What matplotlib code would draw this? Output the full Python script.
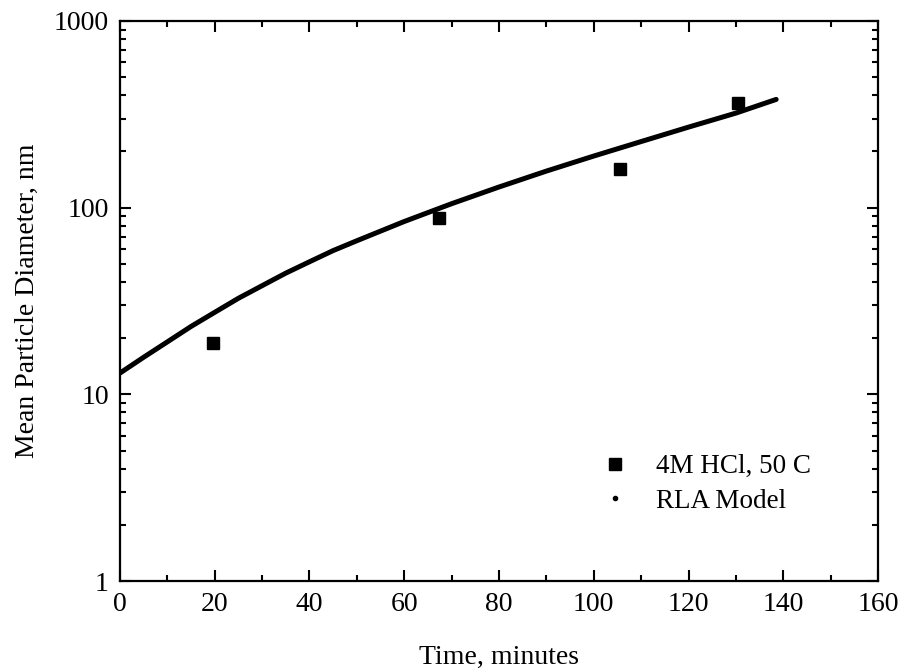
import numpy as np
import matplotlib.pyplot as plt
from matplotlib.lines import Line2D
from matplotlib.ticker import MultipleLocator, LogLocator, NullFormatter

plt.rcParams['font.family'] = ['Liberation Serif', 'DejaVu Serif']

# measured data, 4M HCl at 50 C
t_data = [19.7, 67.4, 105.5, 130.4]
d_data = [18.8, 87.6, 162, 362]

# RLA model curve
t_model = [0, 5, 10, 15, 20, 25, 30, 35, 40, 45, 50, 60, 70, 80, 90, 100, 110, 120, 130, 138.5]
d_model = [13.0, 15.8, 19.1, 23.1, 27.5, 32.7, 38.2, 44.6, 51.3, 58.9, 66.5, 84.3,
           105, 129, 157, 189, 226, 270, 321, 380]

x_ticks = [0, 20, 40, 60, 80, 100, 120, 140, 160]
y_ticks = [1, 10, 100, 1000]

fig = plt.figure(figsize=(9, 6.7), dpi=100)
ax = fig.add_axes([0.1333, 0.1328, 0.8423, 0.8359])

ax.plot(t_model, d_model, color='black', lw=3.6, solid_capstyle='round')
ax.plot(t_data, d_data, 's', color='black', ms=9)

ax.set_yscale('log')
ax.set_xlim(0, 160)
ax.set_ylim(1, 1000)

ax.set_xticks(x_ticks)
ax.set_xticklabels([str(v) for v in x_ticks], fontsize=20)
ax.xaxis.set_minor_locator(MultipleLocator(10))
ax.set_yticks(y_ticks)
ax.set_yticklabels([str(v) for v in y_ticks], fontsize=20)
ax.yaxis.set_minor_locator(LogLocator(base=10, subs=np.arange(2, 10)))
ax.yaxis.set_minor_formatter(NullFormatter())

ax.tick_params(which='both', direction='in', top=True, right=True, width=1.5, colors='black')
ax.tick_params(which='major', length=8, pad=8)
ax.tick_params(which='minor', length=4)
for s in ax.spines.values():
    s.set_linewidth(1.6)

ax.set_xlabel('Time, minutes', fontsize=20, labelpad=20)
ax.set_ylabel('Mean Particle Diameter, nm', fontsize=20, labelpad=10)

handles = [Line2D([], [], ls='none', marker='s', color='black', ms=9),
           Line2D([], [], ls='none', marker='.', color='black', ms=6)]
ax.legend(handles, ['4M HCl, 50 C', 'RLA Model'], loc='upper left',
          bbox_to_anchor=(0.585, 0.27), frameon=False, fontsize=19.5,
          handletextpad=0.5, labelspacing=0.35)

fig.savefig('out.png', dpi=100)
